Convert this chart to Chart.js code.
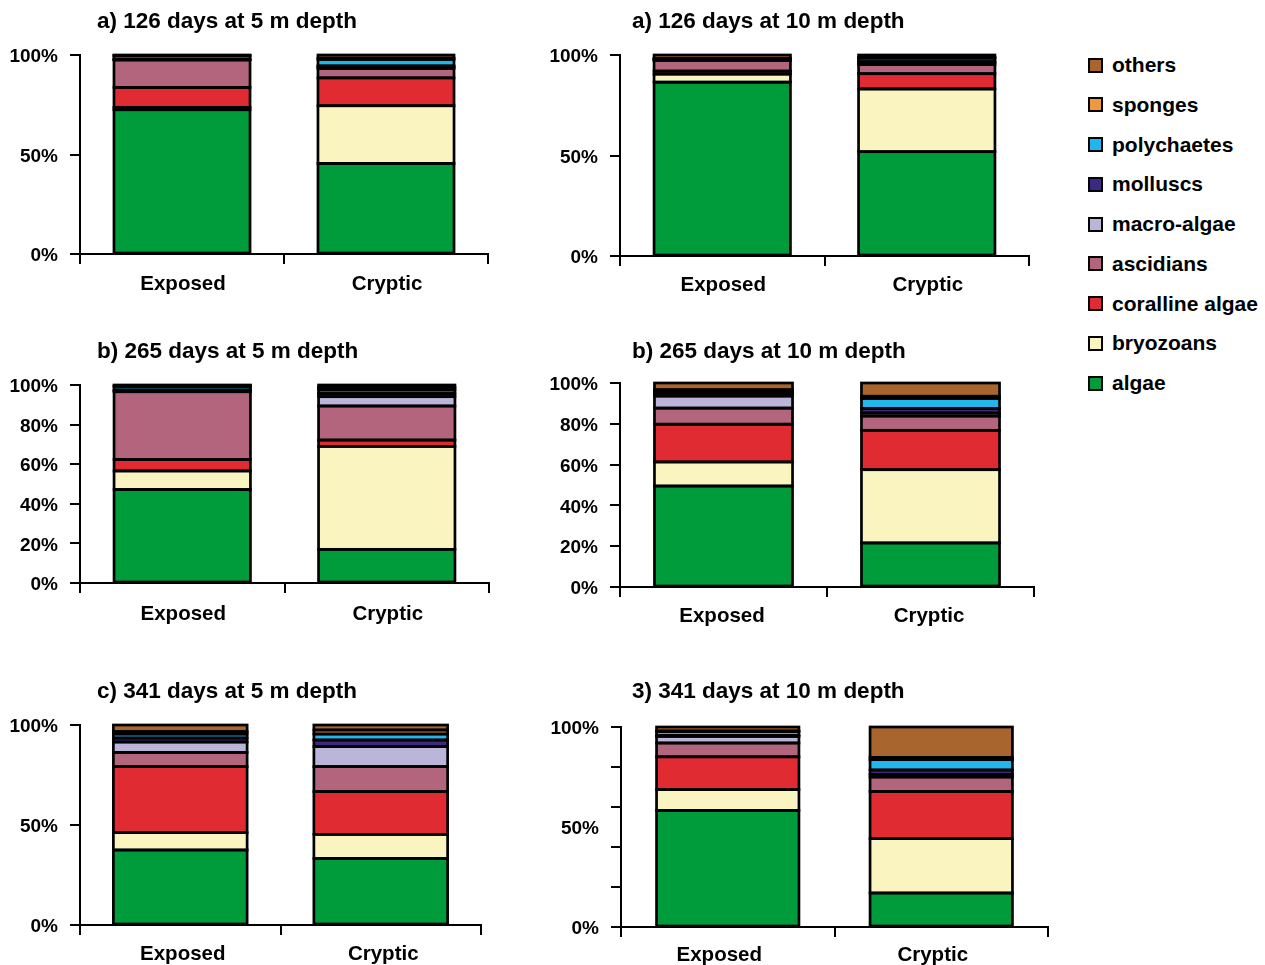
<!DOCTYPE html>
<html>
<head>
<meta charset="utf-8">
<script src="https://cdn.jsdelivr.net/npm/chart.js@4.4.1/dist/chart.umd.min.js"></script>
<style>
  html, body { margin: 0; padding: 0; background: #fff; overflow: hidden; width: 1265px; height: 965px; }
  body { position: relative; font-family: "Liberation Sans", Arial, sans-serif; font-weight: bold; color: #000; }
  .panel { position: absolute; }
  .panel canvas { display: block; }
  .title { position: absolute; font-size: 22.5px; line-height: 22.5px; white-space: nowrap; }
  .legend-row { position: absolute; left: 1088px; height: 24px; display: flex; align-items: center; white-space: nowrap; font-size: 21px; }
  .legend-row .sw { width: 11px; height: 11px; border: 2px solid #000; margin-right: 9px; flex: none; }
</style>
</head>
<body>
<script>
// Stack order, bottom to top
const categories = ['Exposed', 'Cryptic'];
const seriesNames = ['algae', 'bryozoans', 'coralline algae', 'ascidians', 'macro-algae', 'molluscs', 'polychaetes', 'sponges', 'others'];
const seriesColors = ['#009B3A', '#FAF5C0', '#E12B33', '#B3657E', '#BAB5D9', '#3D2A80', '#21B6EC', '#F0993A', '#A8652D'];

// Percent cover per group, same order as seriesNames
const d126m5Exposed  = [72.5, 1.2, 10.0, 13.8, 0.2, 0.2, 1.7, 0.1, 0.3];
const d126m5Cryptic  = [45.5, 29.0, 14.0, 4.7, 0.8, 0.5, 3.3, 0.6, 1.6];
const d126m10Exposed = [86.5, 4.0, 1.5, 5.2, 0.4, 0.2, 0.3, 0.2, 1.7];
const d126m10Cryptic = [51.9, 31.2, 7.6, 4.5, 1.0, 0.5, 1.7, 0.4, 1.2];
const d265m5Exposed  = [47.2, 9.4, 5.8, 34.2, 0.5, 0.4, 1.8, 0.2, 0.5];
const d265m5Cryptic  = [17.0, 52.0, 3.2, 17.2, 4.7, 1.6, 1.8, 1.3, 1.2];
const d265m10Exposed = [49.5, 11.8, 18.5, 7.9, 5.9, 1.2, 1.0, 0.9, 3.3];
const d265m10Cryptic = [21.6, 35.9, 19.3, 7.0, 1.5, 2.2, 4.9, 1.1, 6.5];
const d341m5Exposed  = [37.5, 8.7, 33.0, 7.1, 5.2, 2.0, 2.0, 1.2, 3.3];
const d341m5Cryptic  = [33.3, 12.0, 21.4, 12.5, 10.0, 3.3, 3.0, 2.0, 2.5];
const d341m10Exposed = [58.3, 10.4, 16.4, 6.9, 3.3, 0.5, 1.9, 0.3, 2.0];
const d341m10Cryptic = [17.0, 27.2, 23.6, 7.2, 1.3, 2.2, 5.2, 1.1, 15.2];

const panelTitles = [
  'a) 126 days at 5 m depth', 'a) 126 days at 10 m depth',
  'b) 265 days at 5 m depth', 'b) 265 days at 10 m depth',
  'c) 341 days at 5 m depth', '3) 341 days at 10 m depth'
];

// y-axis tick positions and which of them carry a label
const ticksHalves = [0, 50, 100];
const ticksFifths = [0, 20, 40, 60, 80, 100];
const ticksFifthsMarks = [0, 20, 40, 50, 60, 80, 100];
const labelsHalves = [0, 50, 100];
const labelsFifths = [0, 20, 40, 60, 80, 100];

const FONT = '"Liberation Sans", Arial, sans-serif';
const OUTLINE = 2.7;

// Outlines each stacked segment with a stroke centred on its edges,
// so neighbouring segments share one dark rule.
const segmentOutline = {
  id: 'segmentOutline',
  afterDatasetsDraw(chart) {
    const ctx = chart.ctx;
    ctx.save();
    ctx.strokeStyle = '#000';
    ctx.lineWidth = OUTLINE;
    ctx.lineJoin = 'miter';
    chart.data.datasets.forEach((ds, di) => {
      chart.getDatasetMeta(di).data.forEach(bar => {
        const { x, y, base, width } = bar.getProps(['x', 'y', 'base', 'width'], true);
        const top = Math.min(y, base), h = Math.abs(base - y);
        ctx.strokeRect(x - width / 2, top, width, h);
      });
    });
    ctx.restore();
  }
};

// Page layout of each panel (plot area edges, title spot, label nudge)
const panels = [
  { exposed: d126m5Exposed,  cryptic: d126m5Cryptic,  ticks: ticksHalves, marks: ticksHalves, labels: labelsHalves,
    col: 0, area: { left: 80,  right: 488,  top: 55,  bottom: 254 }, titleTop: 10, labelShift: 1, labelPad: 8 },
  { exposed: d126m10Exposed, cryptic: d126m10Cryptic, ticks: ticksHalves, marks: ticksHalves, labels: labelsHalves,
    col: 1, area: { left: 620, right: 1029, top: 55,  bottom: 256 }, titleTop: 10, labelShift: 1, labelPad: 7 },
  { exposed: d265m5Exposed,  cryptic: d265m5Cryptic,  ticks: ticksFifths, marks: ticksFifths, labels: labelsFifths,
    col: 0, area: { left: 80,  right: 489,  top: 385, bottom: 583 }, titleTop: 340, labelShift: 1, labelPad: 9 },
  { exposed: d265m10Exposed, cryptic: d265m10Cryptic, ticks: ticksFifths, marks: ticksFifths, labels: labelsFifths,
    col: 1, area: { left: 620, right: 1034, top: 383, bottom: 587 }, titleTop: 340, labelShift: -1.5, labelPad: 7 },
  { exposed: d341m5Exposed,  cryptic: d341m5Cryptic,  ticks: ticksHalves, marks: ticksHalves, labels: labelsHalves,
    col: 0, area: { left: 80,  right: 481,  top: 725, bottom: 925 }, titleTop: 680, labelShift: 2.5, labelPad: 7 },
  { exposed: d341m10Exposed, cryptic: d341m10Cryptic, ticks: ticksFifthsMarks, marks: ticksFifths, labels: labelsHalves,
    col: 1, area: { left: 621, right: 1048, top: 727, bottom: 927 }, titleTop: 680, labelShift: -8.5, labelPad: 6 }
];

function buildPanel(p, idx) {
  const canvasLeft = p.col === 0 ? 0 : 540;
  const canvasW = p.col === 0 ? 500 : 525;
  const canvasTop = p.area.top - 40;
  const canvasH = p.area.bottom + 50 - canvasTop;

  const wrap = document.createElement('div');
  wrap.className = 'panel';
  wrap.style.left = canvasLeft + 'px';
  wrap.style.top = canvasTop + 'px';
  const cv = document.createElement('canvas');
  cv.width = canvasW; cv.height = canvasH;
  cv.style.width = canvasW + 'px'; cv.style.height = canvasH + 'px';
  wrap.appendChild(cv);
  document.body.appendChild(wrap);

  const title = document.createElement('div');
  title.className = 'title';
  title.textContent = panelTitles[idx];
  title.style.left = (p.col === 0 ? 97 : 632) + 'px';
  title.style.top = p.titleTop + 'px';
  document.body.appendChild(title);

  new Chart(cv.getContext('2d'), {
    type: 'bar',
    data: {
      labels: categories,
      datasets: seriesNames.map((name, i) => ({
        label: name,
        data: [p.exposed[i], p.cryptic[i]],
        backgroundColor: seriesColors[i],
        borderWidth: 0,
        inflateAmount: 0,
        categoryPercentage: 1,
        barPercentage: 0.667
      }))
    },
    plugins: [segmentOutline],
    options: {
      responsive: false,
      animation: false,
      devicePixelRatio: 1,
      layout: { padding: { left: 0, top: p.area.top - canvasTop, right: canvasLeft + canvasW - p.area.right, bottom: 0 } },
      plugins: { legend: { display: false }, title: { display: false }, tooltip: { enabled: false } },
      scales: {
        x: {
          stacked: true,
          offset: true,
          grid: { offset: true, drawOnChartArea: false, color: '#000', lineWidth: 2, tickLength: 10 },
          border: { color: '#000', width: 2 },
          ticks: { color: '#000', padding: p.labelPad, labelOffset: p.labelShift, font: { family: FONT, size: 20.5, weight: 'bold' } },
          afterFit: s => { s.height = canvasTop + canvasH - p.area.bottom; }
        },
        y: {
          stacked: true,
          min: 0,
          max: 100,
          grid: {
            drawOnChartArea: false, lineWidth: 2, tickLength: 10, color: '#000',
            tickColor: c => (c.tick && p.marks.includes(c.tick.value)) ? '#000' : 'rgba(0,0,0,0)'
          },
          border: { color: '#000', width: 2 },
          ticks: {
            autoSkip: false, color: '#000', padding: 12, labelOffset: 2,
            font: { family: FONT, size: 19, weight: 'bold' },
            callback: v => p.labels.includes(v) ? v + '%' : ''
          },
          afterBuildTicks: s => { s.ticks = p.ticks.map(v => ({ value: v })); },
          afterFit: s => { s.width = p.area.left - canvasLeft; }
        }
      }
    }
  });
}

panels.forEach(buildPanel);

// Legend, top entry is the top of the stack
const legendTop = 65, legendStep = 39.75;
seriesNames.slice().reverse().forEach((name, i) => {
  const row = document.createElement('div');
  row.className = 'legend-row';
  row.style.top = (legendTop + i * legendStep - 12) + 'px';
  const sw = document.createElement('span');
  sw.className = 'sw';
  sw.style.background = seriesColors[seriesNames.length - 1 - i];
  const tx = document.createElement('span');
  tx.textContent = name;
  row.appendChild(sw);
  row.appendChild(tx);
  document.body.appendChild(row);
});
</script>
</body>
</html>
